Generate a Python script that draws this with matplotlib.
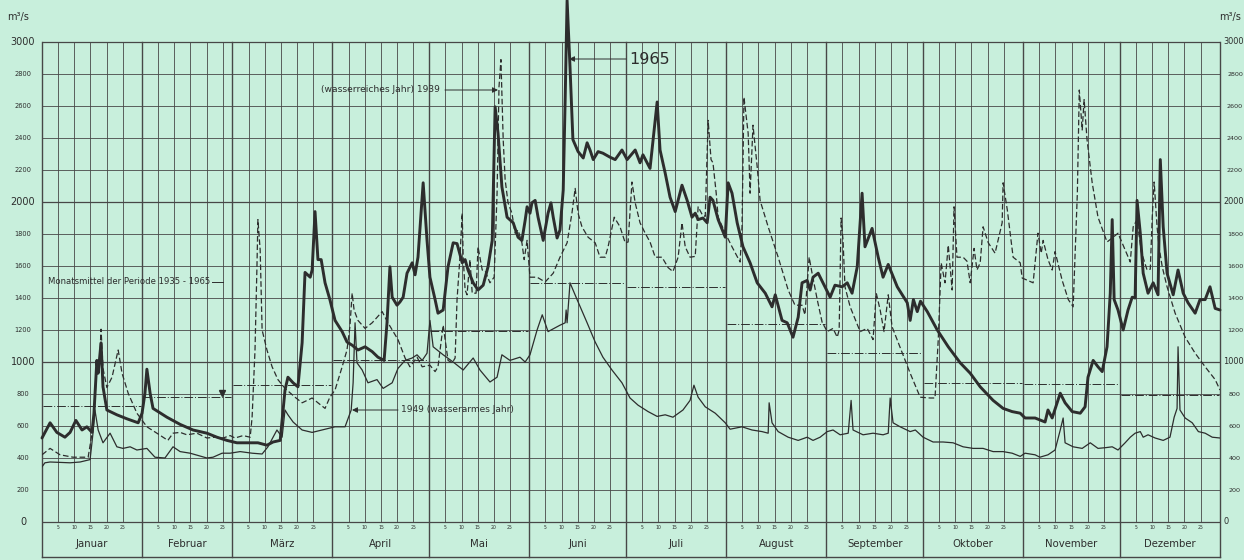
import matplotlib
matplotlib.use('Agg')
import matplotlib.pyplot as plt

# ---------------- data ----------------
months = ["Januar", "Februar", "März", "April", "Mai", "Juni", "Juli",
          "August", "September", "Oktober", "November", "Dezember"]
month_days = [31, 28, 31, 30, 31, 30, 31, 31, 30, 31, 30, 31]
day_ticks = [5, 10, 15, 20, 25]
y_ticks = list(range(0, 3001, 200))

# Monatsmittel der Periode 1935-1965 (m3/s)
monthly_mean = [725, 780, 855, 1010, 1195, 1495, 1470, 1240, 1055, 870, 860, 795]

# 1965 (thick line): day of year, discharge
days_1965 = [0, 2.5, 4.6, 7.1, 8.7, 10.5, 12.4, 13.9, 15.5, 16.1, 17.0, 17.4, 18.3, 18.9, 20.1,
             23.2, 26.3, 29.8, 31.0, 31.9, 32.5, 33.5, 34.4, 38.7, 42.8, 46.8, 51.1, 54.2, 57.3,
             60.4, 63.8, 66.9, 69.7, 71.6, 73.8, 75.3, 76.2, 77.8, 79.3, 80.6, 81.5, 83.1, 83.7,
             84.6, 85.5, 86.5, 87.7, 89.2, 90.8, 93.0, 94.5, 96.1, 97.9, 100.1, 102.3, 104.1,
             106.0, 106.9, 107.8, 108.5, 110.0, 110.9, 111.9, 113.1, 114.7, 115.6, 116.5, 118.1,
             119.3, 120.2, 121.8, 122.7, 124.3, 125.8, 127.4, 128.6, 130.2, 131.1, 132.0, 133.6,
             135.1, 136.7, 138.2, 139.5, 140.4, 141.3, 142.5, 144.1, 146.0, 147.5, 148.7, 149.7,
             150.3, 151.2, 151.8, 152.8, 153.7, 155.3, 156.8, 157.7, 158.4, 159.6, 160.5, 161.5,
             162.1, 162.7, 163.6, 164.5, 166.1, 167.7, 168.9, 169.8, 170.8, 172.3, 173.8, 176.0,
             177.6, 179.7, 181.3, 183.8, 185.3, 186.2, 188.4, 190.6, 191.5, 193.1, 194.6, 196.2,
             198.3, 199.9, 201.4, 202.4, 203.3, 204.8, 206.1, 207.0, 207.9, 209.5, 211.7, 212.6,
             213.8, 215.4, 217.2, 219.4, 221.6, 224.1, 226.2, 227.2, 229.3, 230.9, 232.7, 234.3,
             235.5, 237.1, 238.0, 238.9, 240.5, 242.6, 244.2, 245.7, 247.9, 249.5, 251.0, 252.6,
             254.1, 255.0, 257.2, 259.1, 260.6, 262.2, 265.0, 268.1, 269.0, 270.0, 271.2, 272.2,
             274.3, 277.4, 280.8, 284.5, 287.6, 290.7, 294.7, 297.8, 300.6, 303.1, 304.6, 307.7,
             310.8, 311.7, 313.0, 315.5, 317.0, 319.2, 321.7, 323.2, 324.1, 325.7, 327.2, 328.5,
             330.0, 331.0, 331.6, 332.2, 333.4, 335.0, 336.5, 337.8, 338.7, 339.3, 340.3, 341.2,
             342.7, 344.3, 345.8, 346.5, 347.4, 348.6, 350.5, 352.0, 353.6, 355.1, 357.3, 358.8,
             360.4, 361.9, 363.5, 365.0]
q_1965 = [525, 620, 560, 530, 560, 635, 575, 595, 560, 680, 1010, 930, 1120, 845, 700,
          670, 645, 620, 680, 805, 955, 805, 710, 655, 610, 575, 555, 530, 510,
          495, 495, 495, 480, 500, 510, 825, 905, 870, 845, 1120, 1560, 1530, 1575,
          1940, 1640, 1640, 1495, 1390, 1260, 1190, 1125, 1105, 1075, 1095, 1065, 1030,
          1010, 1245, 1595, 1405, 1355, 1375, 1405, 1555, 1620, 1545, 1655, 2120,
          1760, 1530, 1390, 1305, 1325, 1595, 1745, 1740, 1620, 1640, 1575, 1495,
          1450, 1480, 1595, 1760, 2595, 2430, 2095, 1905, 1870, 1780, 1760, 1885,
          1970, 1930, 1995, 2010, 1905, 1760, 1930, 1995, 1905, 1775, 1825, 2075,
          2640, 3260, 2845, 2390, 2315, 2275, 2370, 2325, 2265, 2315, 2305, 2280,
          2265, 2325, 2265, 2325, 2245, 2295, 2210, 2625, 2325, 2180, 2030, 1940,
          2105, 2010, 1905, 1930, 1890, 1900, 1870, 2030, 2010, 1890, 1780, 2120,
          2055, 1870, 1720, 1620, 1495, 1430, 1345, 1420, 1260, 1245, 1155, 1280,
          1495, 1510, 1450, 1530, 1555, 1470, 1405, 1480, 1470, 1495, 1430, 1595,
          2055, 1720, 1835, 1655, 1530, 1610, 1470, 1370, 1260, 1390, 1315, 1380,
          1315, 1200, 1095, 995, 930, 845, 760, 710, 690, 680, 650, 650,
          625, 700, 650, 805, 745, 690, 680, 720, 905, 1010, 970, 940,
          1095, 1430, 1890, 1390, 1325, 1200, 1325, 1405, 1400, 2010, 1805, 1555,
          1430, 1495, 1420, 2265, 1845, 1555, 1420, 1575, 1430, 1370, 1305, 1390,
          1390, 1470, 1335, 1325]

# 1939, wasserreiches Jahr (dashed line)
days_1939 = [0, 2.5, 5.6, 9.6, 14.3, 15.5, 16.4, 17.0, 17.7, 18.3, 18.9, 20.1, 21.7, 23.6, 24.8,
             26.7, 29.4, 32.5, 35.6, 39.0, 40.6, 42.8, 44.9, 48.0, 51.1, 53.6, 56.1, 58.3, 59.8,
             62.3, 64.5, 65.1, 66.0, 66.6, 66.9, 67.6, 68.2, 69.7, 71.3, 73.1, 75.3, 78.4, 80.6,
             83.7, 85.5, 87.7, 89.2, 90.8, 93.0, 94.5, 95.4, 96.1, 96.7, 97.9, 100.1, 102.3,
             105.4, 107.2, 110.3, 112.5, 114.0, 116.2, 117.8, 120.2, 121.8, 122.7, 124.3, 125.8,
             127.1, 128.0, 128.6, 129.5, 130.2, 130.5, 131.1, 131.7, 132.6, 133.3, 134.5, 135.1,
             136.4, 137.3, 138.8, 140.1, 141.0, 141.6, 142.2, 142.9, 143.5, 144.4, 145.6, 146.6,
             147.5, 148.7, 149.4, 150.3, 151.2, 153.4, 155.9, 158.4, 160.5, 162.7, 164.2, 165.2,
             166.1, 167.3, 169.2, 171.4, 172.9, 174.5, 175.4, 177.3, 179.1, 180.7, 181.6, 182.8,
             183.8, 185.3, 186.9, 188.4, 190.0, 192.1, 194.0, 195.5, 197.1, 198.3, 199.3, 200.8,
             202.4, 203.3, 204.6, 205.5, 206.4, 207.3, 207.9, 208.9, 209.5, 211.7, 213.8, 216.3,
             216.9, 217.5, 218.8, 219.4, 220.3, 221.6, 222.5, 225.0, 228.1, 231.2, 233.3, 235.5,
             236.4, 237.7, 238.6, 240.2, 241.7, 243.3, 245.1, 246.4, 247.0, 247.6, 248.2, 248.8,
             250.4, 253.5, 255.7, 257.5, 258.5, 259.7, 260.9, 262.2, 263.4, 265.9, 269.0, 272.1,
             275.2, 276.7, 277.7, 278.6, 279.8, 280.8, 282.0, 282.6, 283.5, 285.4, 286.6, 287.6,
             288.8, 289.7, 290.7, 291.6, 293.2, 295.3, 297.5, 297.8, 299.1, 300.9, 303.1, 303.7,
             307.1, 308.6, 309.6, 310.2, 311.7, 313.0, 313.9, 316.1, 318.0, 319.5, 320.8, 321.4,
             322.3, 322.9, 323.8, 325.4, 327.2, 330.0, 331.9, 333.4, 335.6, 337.2, 338.1, 339.3,
             340.6, 342.4, 343.4, 344.0, 344.6, 345.5, 346.1, 347.1, 348.6, 351.1, 354.2, 357.3,
             360.4, 363.5, 365.0]
q_1939 = [420, 460, 420, 405, 405, 555, 760, 1000, 950, 1205, 960, 840, 905, 1075, 930,
          805, 680, 595, 555, 510, 555, 560, 545, 555, 525, 530, 525, 540, 525,
          540, 530, 655, 1075, 1595, 1890, 1700, 1200, 1075, 970, 890, 835, 780, 745,
          775, 745, 710, 780, 825, 970, 1075, 1220, 1430, 1325, 1260, 1210, 1245,
          1315, 1245, 1140, 1025, 970, 1030, 970, 980, 940, 970, 1230, 1010,
          995, 1025, 1390, 1655, 1930, 1655, 1450, 1420, 1640, 1430, 1430, 1720,
          1575, 1570, 1495, 1530, 2055, 2720, 2890, 2390, 2140, 1995, 1930, 1805,
          1825, 1745, 1640, 1760, 1530, 1530, 1500, 1555, 1655, 1745, 1930, 2085,
          1930, 1845, 1780, 1745, 1655, 1655, 1720, 1905, 1845, 1745, 1750, 2125,
          1995, 1870, 1805, 1750, 1655, 1655, 1590, 1565, 1655, 1870, 1720, 1655,
          1660, 1970, 1920, 1910, 2510, 2265, 2245, 2055, 1905, 1805, 1720, 1625,
          1845, 2655, 2430, 2055, 2480, 2220, 2010, 1845, 1655, 1450, 1355, 1355,
          1295, 1655, 1555, 1390, 1250, 1190, 1210, 1155, 1200, 1900, 1760, 1470,
          1345, 1190, 1210, 1140, 1430, 1325, 1190, 1420, 1220, 1090, 930, 780,
          775, 775, 1140, 1620, 1495, 1730, 1450, 1970, 1655, 1655, 1630, 1495,
          1710, 1575, 1620, 1845, 1745, 1680, 1870, 2120, 1950, 1655, 1620, 1525,
          1495, 1805, 1680, 1760, 1640, 1575, 1690, 1510, 1390, 1345, 2055, 2700,
          2450, 2640, 2390, 2120, 1905, 1750, 1780, 1805, 1700, 1625, 1845, 1890,
          1690, 1575, 1580, 1905, 2125, 1845, 1720, 1595, 1470, 1305, 1155, 1055,
          970, 890, 825]

# 1949, wasserarmes Jahr (thin line)
days_1949 = [0, 0.9, 2.5, 8.7, 11.8, 14.9, 15.8, 16.4, 17.4, 18.9, 21.1, 23.2, 25.1, 27.3, 29.4,
             32.5, 35.0, 38.1, 40.6, 42.8, 45.9, 51.1, 53.0, 55.8, 58.3, 61.4, 65.1, 68.2, 70.0,
             72.8, 74.4, 75.3, 76.2, 77.8, 80.6, 83.7, 86.8, 90.8, 93.9, 95.8, 96.4, 97.0, 97.6,
             99.2, 101.0, 103.8, 105.7, 108.5, 110.3, 112.5, 114.7, 116.2, 117.8, 119.3, 120.2,
             121.2, 124.3, 127.4, 130.5, 133.6, 135.7, 138.8, 141.0, 142.5, 145.0, 148.1, 149.7,
             151.2, 153.4, 155.0, 156.8, 160.5, 162.1, 162.4, 162.7, 163.6, 165.8, 168.9, 171.4,
             173.8, 176.6, 179.7, 182.2, 184.7, 187.8, 190.6, 193.1, 195.5, 198.6, 200.8, 202.0,
             203.3, 205.5, 208.6, 211.7, 213.2, 216.9, 220.0, 223.1, 225.0, 225.3, 226.2, 228.1,
             231.2, 234.3, 237.1, 238.9, 241.1, 243.3, 245.1, 247.3, 249.8, 250.7, 251.3, 254.4,
             257.5, 260.6, 262.2, 262.8, 263.7, 265.9, 269.0, 270.6, 273.0, 276.1, 279.2, 282.3,
             285.4, 288.5, 291.6, 294.7, 297.8, 300.6, 303.1, 304.6, 307.7, 309.2, 311.7, 313.9,
             315.5, 316.4, 317.0, 319.5, 322.3, 324.8, 327.2, 329.7, 331.6, 333.4, 335.6, 337.2,
             338.7, 340.3, 341.2, 342.7, 344.9, 347.4, 349.5, 350.8, 351.7, 352.0, 352.6, 354.2,
             356.4, 358.3, 360.4, 362.6, 365.0]
q_1949 = [345, 370, 375, 370, 375, 390, 555, 700, 575, 495, 555, 470, 460, 470, 450,
          460, 405, 400, 470, 440, 430, 400, 405, 430, 430, 440, 430, 425, 470,
          575, 530, 700, 670, 625, 575, 560, 575, 595, 595, 700, 870, 1245, 995,
          950, 870, 890, 835, 870, 960, 1010, 1025, 1045, 1010, 1055, 1260,
          1095, 1045, 1000, 950, 1025, 950, 875, 905, 1045, 1010, 1030, 1000,
          1045, 1200, 1295, 1190, 1230, 1245, 1325, 1245, 1495, 1390, 1245, 1125,
          1030, 950, 870, 775, 730, 690, 660, 670, 655, 700, 760, 855,
          780, 720, 680, 620, 580, 595, 575, 565, 555, 745, 620, 565,
          530, 510, 530, 510, 530, 565, 575, 545, 555, 760, 575, 545,
          555, 545, 555, 775, 620, 595, 565, 575, 530, 500, 500, 495,
          470, 460, 460, 440, 440, 430, 410, 430, 420, 405, 420, 450,
          575, 650, 495, 470, 460, 495, 460, 465, 470, 450, 495, 530,
          555, 565, 530, 545, 525, 510, 530, 655, 710, 1095, 700, 650,
          620, 565, 555, 530, 525]

# ---------------- style ----------------
BG = '#c8efdc'
INK = '#2d2d2d'
GRID = '#474747'
W, H = 1244, 560
X0, X1 = 42, 1220          # plot area in pixels
Y_TOP, Y_ZERO, Y_BOT = 42, 522, 557
YMAX = 3000
px_per_unit = (Y_ZERO - Y_TOP) / YMAX
YMIN = -(Y_BOT - Y_ZERO) / px_per_unit
NDAYS = sum(month_days)

plt.rcParams['font.family'] = ['DejaVu Sans']

fig = plt.figure(figsize=(W / 100, H / 100), dpi=100, facecolor=BG)
ax = fig.add_axes([X0 / W, (H - Y_BOT) / H, (X1 - X0) / W, (Y_BOT - Y_TOP) / H])
ax.set_xlim(0, NDAYS)
ax.set_ylim(YMIN, YMAX)
ax.axis('off')

def px2day(px):
    return (px - X0) / (X1 - X0) * NDAYS

def py2val(py):
    return (Y_ZERO - py) / px_per_unit

starts = [0]
for n in month_days:
    starts.append(starts[-1] + n)

# grid
for v in y_ticks:
    ax.plot([0, NDAYS], [v, v], color=GRID, lw=0.9 if v % 1000 == 0 else 0.6,
            zorder=1, clip_on=False, solid_capstyle='butt')
for s in starts[:-1]:
    for k in day_ticks:
        ax.plot([s + k, s + k], [0, YMAX], color=GRID, lw=0.6, zorder=1, clip_on=False)
        ax.text(s + k, py2val(527.5), str(k), fontsize=3.3, color=INK,
                ha='center', va='center', clip_on=False)
for s in starts:
    ax.plot([s, s], [YMIN, YMAX], color=GRID, lw=1.0, zorder=1, clip_on=False)
ax.plot([0, NDAYS], [YMIN, YMIN], color=GRID, lw=1.0, zorder=1, clip_on=False)

# month names
for i, m in enumerate(months):
    ax.text((starts[i] + starts[i + 1]) / 2, py2val(544), m, fontsize=7.3, color=INK,
            ha='center', va='center', clip_on=False)

# y-axis labels (both sides)
for v in y_ticks:
    big = v % 1000 == 0
    ax.text(px2day(23), v, str(v), fontsize=7.0 if big else 4.8, color=INK,
            ha='center', va='center', clip_on=False)
    if big:
        ax.text(px2day(1223), v, str(v), fontsize=5.9, color=INK,
                ha='left', va='center', clip_on=False)
    else:
        ax.text(px2day(1235), v, str(v), fontsize=4.6, color=INK,
                ha='center', va='center', clip_on=False)
ax.text(px2day(18), py2val(17), 'm³/s', fontsize=7, color=INK, ha='center', va='center', clip_on=False)
ax.text(px2day(1230), py2val(17), 'm³/s', fontsize=7, color=INK, ha='center', va='center', clip_on=False)

# monthly means (dash-dot)
for i, mv in enumerate(monthly_mean):
    ax.plot([starts[i] + 0.3, starts[i + 1] - 0.3], [mv, mv], color=INK, lw=0.7,
            linestyle=(0, (9, 2, 1, 2)), zorder=2)
ax.plot([px2day(222)], [805], marker='v', color=INK, markersize=4.5, zorder=3)
ax.text(px2day(48), py2val(282), 'Monatsmittel der Periode 1935 - 1965', fontsize=6.1,
        color=INK, ha='left', va='center', zorder=4)
ax.plot([px2day(212), px2day(223)], [py2val(282)] * 2, color=INK, lw=0.7, zorder=4)

# series
ax.plot(days_1949, q_1949, color=INK, lw=0.9, zorder=3, solid_joinstyle='round')
ax.plot(days_1939, q_1939, color=INK, lw=0.9, linestyle=(0, (4.5, 2.2)), zorder=3)
ax.plot(days_1965, q_1965, color=INK, lw=2.1, zorder=4, clip_on=False,
        solid_joinstyle='round', solid_capstyle='round')

# annotations
arrow = dict(arrowstyle='-|>', lw=0.7, color=INK, mutation_scale=8, shrinkA=0, shrinkB=0)
ax.annotate('', xy=(px2day(498), py2val(90)), xytext=(px2day(445), py2val(90)),
            arrowprops=arrow, zorder=5)
ax.text(px2day(440), py2val(90), '(wasserreiches Jahr) 1939', fontsize=6.6, color=INK,
        ha='right', va='center', zorder=5)

ax.annotate('', xy=(px2day(569), py2val(59)), xytext=(px2day(626), py2val(59)),
            arrowprops=arrow, zorder=5)
ax.text(px2day(629), py2val(59), '1965', fontsize=11.5, color=INK, ha='left', va='center', zorder=5)

ax.annotate('', xy=(px2day(352), py2val(410)), xytext=(px2day(398), py2val(410)),
            arrowprops=arrow, zorder=5)
ax.text(px2day(401), py2val(410), '1949 (wasserarmes Jahr)', fontsize=6.5, color=INK,
        ha='left', va='center', zorder=5)

fig.savefig('out.png', dpi=100, facecolor=BG)
